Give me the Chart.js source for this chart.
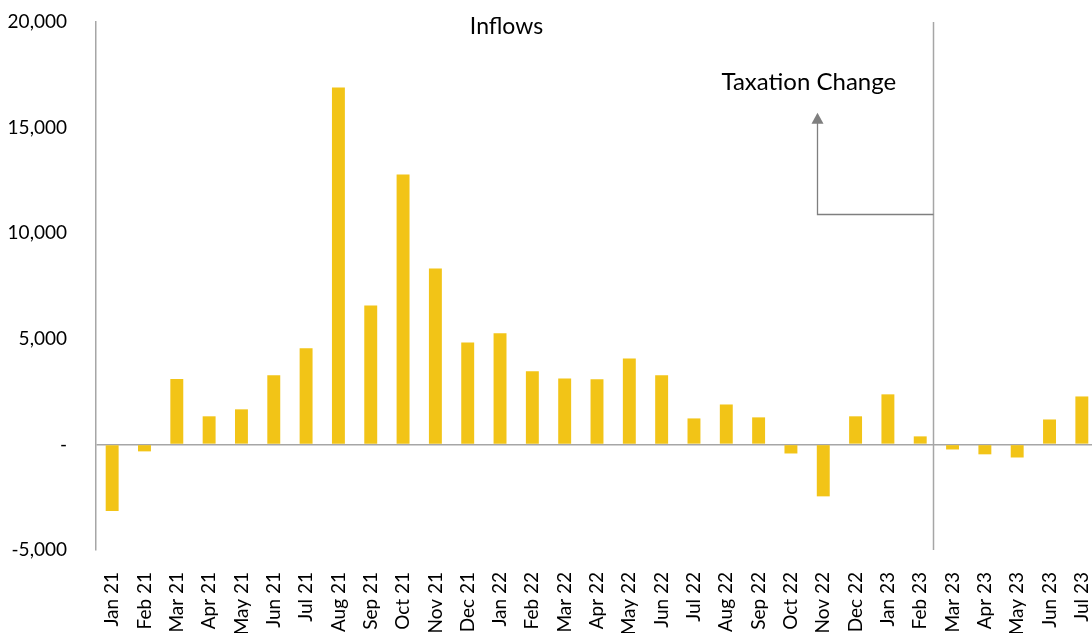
<!DOCTYPE html>
<html>
<head>
<meta charset="utf-8">
<script src="https://cdn.jsdelivr.net/npm/chart.js@4/dist/chart.umd.min.js"></script>
<style>
    html, body { margin: 0; padding: 0; background: #fff; overflow: hidden; }
    #wrap { width: 1100px; height: 633px; }
</style>
</head>
<body>
<div id="wrap"><canvas id="main_chart" width="1100" height="633"></canvas></div>
<script>
const months = ["Jan 21", "Feb 21", "Mar 21", "Apr 21", "May 21", "Jun 21", "Jul 21", "Aug 21", "Sep 21", "Oct 21", "Nov 21", "Dec 21",
    "Jan 22", "Feb 22", "Mar 22", "Apr 22", "May 22", "Jun 22", "Jul 22", "Aug 22", "Sep 22", "Oct 22", "Nov 22", "Dec 22",
    "Jan 23", "Feb 23", "Mar 23", "Apr 23", "May 23", "Jun 23", "Jul 23"];
const inflows = [-3150, -330, 3100, 1330, 1660, 3270, 4550, 16900, 6580, 12780, 8330, 4830,
    5260, 3460, 3120, 3080, 4070, 3270, 1230, 1890, 1280, -430, -2460, 1330,
    2370, 380, -240, -470, -620, 1180, 2270];
const yTicks = [-5000, 0, 5000, 10000, 15000, 20000];
const changeIndex = 25.4;           // between Feb 23 and Mar 23
const noteLabel = "Taxation Change";
const chartTitle = "Inflows";

document.addEventListener("DOMContentLoaded", function () {
    const grey = '#a6a6a6';

    // vertical marker, arrow, title and note
    const notes = {
        id: 'notes',
        afterDatasetsDraw(chart) {
            const c = chart.ctx;
            const x = chart.scales.x;
            const y = chart.scales.y;
            const area = chart.chartArea;
            const lineX = Math.round(x.getPixelForValue(changeIndex)) + 0.5;

            c.save();
            c.strokeStyle = grey;
            c.lineWidth = 1.5;
            c.beginPath();
            c.moveTo(lineX, area.top);
            c.lineTo(lineX, area.bottom);
            c.stroke();

            // arrow
            const ax = Math.round(x.getPixelForValue(21.8)) + 0.5;
            const ay = Math.round(y.getPixelForValue(10900)) + 0.5;
            const tipY = y.getPixelForValue(15700);
            c.strokeStyle = '#7f7f7f';
            c.fillStyle = '#7f7f7f';
            c.lineWidth = 1.3;
            c.beginPath();
            c.moveTo(lineX, ay);
            c.lineTo(ax, ay);
            c.lineTo(ax, tipY + 8);
            c.stroke();
            c.beginPath();
            c.moveTo(ax, tipY);
            c.lineTo(ax - 6, tipY + 11);
            c.lineTo(ax + 6, tipY + 11);
            c.closePath();
            c.fill();

            c.fillStyle = '#000';
            c.font = '24px Lato';
            c.textBaseline = 'middle';
            c.textAlign = 'left';
            c.fillText(noteLabel, x.getPixelForValue(18.85), y.getPixelForValue(17150));
            c.font = '23px Lato';
            c.textAlign = 'center';
            c.fillText(chartTitle, x.getPixelForValue(12.2), 27);
            c.restore();
        }
    };

    const ctx = document.getElementById("main_chart").getContext("2d");
    const mainChart = new Chart(ctx, {
        type: 'bar',
        data: {
            labels: months,
            datasets: [{
                label: chartTitle,
                data: inflows,
                backgroundColor: '#f2c417',
                barPercentage: 0.4,
                categoryPercentage: 1.0
            }]
        },
        options: {
            responsive: false,
            animation: false,
            layout: { padding: { top: 22, right: 2, left: 0, bottom: 0 } },
            plugins: {
                legend: { display: false },
                tooltip: { enabled: false }
            },
            scales: {
                x: {
                    border: { display: false },
                    grid: { display: false, drawTicks: false },
                    ticks: {
                        color: '#000',
                        font: { family: 'Lato', size: 19 },
                        minRotation: 90,
                        maxRotation: 90,
                        padding: 22,
                        autoSkip: false
                    },
                    afterFit: (scale) => {
                        scale.height = 83;
                        scale.paddingLeft = 0;
                        scale.paddingRight = 0;
                    }
                },
                y: {
                    min: -5000,
                    max: 20000,
                    afterBuildTicks: (scale) => { scale.ticks = yTicks.map(v => ({ value: v })); },
                    afterFit: (scale) => {
                        scale.width = 96;
                        scale.paddingTop = 0;
                        scale.paddingBottom = 0;
                    },
                    border: { display: true, color: grey, width: 1.5 },
                    grid: {
                        drawTicks: false,
                        lineWidth: 1.5,
                        color: (context) => context.tick && context.tick.value === 0 ? grey : 'rgba(0,0,0,0)'
                    },
                    ticks: {
                        color: '#000',
                        font: { family: 'Lato', size: 19 },
                        padding: 29,
                        callback: (v) => v === 0 ? '-' : v.toLocaleString('en-US')
                    }
                }
            }
        },
        plugins: [notes]
    });
});
</script>
</body>
</html>
